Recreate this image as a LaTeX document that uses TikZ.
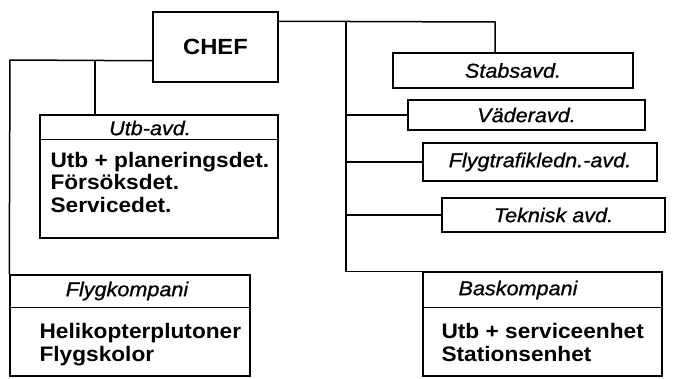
\documentclass[tikz,border=0pt]{standalone}
\usepackage{fontspec}
\setmainfont{Liberation Sans}[FakeStretch=1.08]
\newfontfamily\headfont{Liberation Sans}[FakeStretch=1.08, FakeBold=0.9]
\usetikzlibrary{calc}
\begin{document}
\begin{tikzpicture}[x=1pt,y=-1pt,
  box/.style={draw, line width=1.5pt, inner sep=0pt},
  head/.style={font=\fontsize{20}{22}\headfont\itshape},
  bodytxt/.style={font=\fontsize{21}{22.5}\selectfont\bfseries, align=left, anchor=west},
  conn/.style={line width=1.5pt}]
\useasboundingbox (0,0) rectangle (679,378);
% boxes
\node[box, minimum width=125pt, minimum height=70pt, font=\fontsize{22}{24}\selectfont\bfseries] (chef) at (215.5,47) {CHEF};
\node[box, head, minimum width=240pt, minimum height=35pt] (stabs) at (513,70.5) {Stabsavd.\hspace{28pt}};
\node[box, head, minimum width=237pt, minimum height=30pt] (vader) at (526.5,115) {Väderavd.\hspace{20pt}};
\node[box, head, minimum width=234pt, minimum height=38pt] (flyg) at (540,162) {Flygtrafikledn.-avd.};
\node[box, head, minimum width=223pt, minimum height=34pt] (tek) at (553.5,215) {Teknisk avd.\hspace{11pt}};
\node[box, minimum width=238pt, minimum height=123pt] (utb) at (159,176.5) {};
\node[box, minimum width=240pt, minimum height=101pt] (fk) at (130,325.5) {};
\node[box, minimum width=239pt, minimum height=104pt] (bas) at (542.5,324) {};
% separators
\draw[conn] ($(utb.north west)+(0,25)$) -- ($(utb.north east)+(0,25)$);
\draw[conn] ($(fk.north west)+(0,33)$) -- ($(fk.north east)+(0,33)$);
\draw[conn] ($(bas.north west)+(0,36)$) -- ($(bas.north east)+(0,36)$);
% header texts
\node[head] (utbh) at (150,128) {Utb-avd.};
\node[head] (fkh) at (127,291) {Flygkompani};
\node[head] (bash) at (518,290) {Baskompani};
% body texts
\node[bodytxt] (utbb) at (47,182) {Utb + planeringsdet.\\Försöksdet.\\Servicedet.};
\node[bodytxt] (fkb) at (36,344.5) {Helikopterplutoner\\Flygskolor};
\node[bodytxt] (basb) at (438,342.5) {Utb + serviceenhet\\Stationsenhet};
% connectors right
\coordinate (sk) at (495,22);
\coordinate (tt) at (346,22);
\draw[conn] ($(chef.north east)+(0,10)$) -- (sk) -- (sk |- stabs.north);
\draw[conn] (tt) |- (bas.north west);
\draw[conn] (tt |- vader.west) -- (vader.west);
\draw[conn] (tt |- flyg.west) -- (flyg.west);
\draw[conn] (tt |- tek.west) -- (tek.west);
% connectors left
\coordinate (lc) at (10,60);
\coordinate (lu) at (95,60);
\draw[conn] ($(chef.south west)+(0,-22)$) -- (lc) -- (fk.north west);
\draw[conn] (lu) -- (lu |- utb.north);
\end{tikzpicture}
\end{document}
